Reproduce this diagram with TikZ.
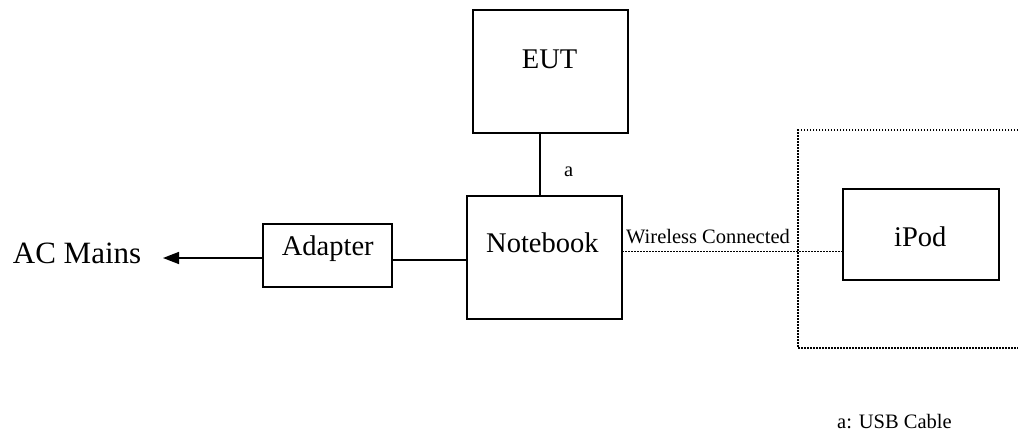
\documentclass[tikz,border=0pt]{standalone}
\usepackage{fontspec}
\setmainfont{Liberation Serif}
\usetikzlibrary{arrows.meta}
\tikzset{
  box/.style={draw, line width=1.5pt, rectangle, inner sep=0pt, outer sep=0pt},
  bigtxt/.style={inner sep=0pt, anchor=base west, font=\fontsize{28.5}{30}\selectfont},
  smalltxt/.style={inner sep=0pt, anchor=base west, font=\fontsize{20.5}{22}\selectfont},
  wire/.style={line width=1.5pt},
  fine dots/.style={line width=1.6pt, dash pattern=on 1.5pt off 1.5pt},
}
\begin{document}
\begin{tikzpicture}[x=1pt,y=-1pt]
\useasboundingbox (0,0) rectangle (1018,434);
% boxes
\node[box, minimum width=155pt, minimum height=123pt] (eut) at (550.5,71.5) {};
\node[box, minimum width=155pt, minimum height=123pt] (nb) at (544.5,257.5) {};
\node[box, minimum width=129pt, minimum height=63pt] (ad) at (327.5,255.5) {};
\node[box, minimum width=156pt, minimum height=91pt] (ipod) at (921,234.5) {};
% dotted group (open on the right)
\draw[fine dots] (1018,130) -- (798,130) -- (798,348) -- (1018,348);
% texts
\node[bigtxt] (eutt) at (521.7,68) {EUT};
\node[bigtxt] (nbt) at (486,252) {Notebook};
\node[bigtxt] (adt) at (281.7,255) {Adapter};
\node[bigtxt] (ipt) at (894,246) {iPod};
\node[bigtxt, font=\fontsize{31}{33}\selectfont] (ac) at (12.7,263) {AC Mains};
\node[smalltxt] (wl) at (626,243) {Wireless Connected};
\node[smalltxt] (la) at (564,176) {a};
\node[smalltxt] (leg) at (837,428) {a: USB Cable};
% helper coordinates
\coordinate (cx) at (540,0);
\coordinate (cy) at (0,260);
\coordinate (wy) at (0,251.5);
\coordinate (ay) at (0,258);
\coordinate (tip) at (163,258);
% connectors
\draw[wire] (eut.south -| cx) -- (nb.north -| cx);
\draw[wire] (ad.east |- cy) -- (nb.west |- cy);
\draw[wire, -{Triangle[length=16pt, width=12pt]}] (ad.west |- ay) -- (tip);
\draw[fine dots] (nb.east |- wy) -- (ipod.west |- wy);
\end{tikzpicture}
\end{document}
